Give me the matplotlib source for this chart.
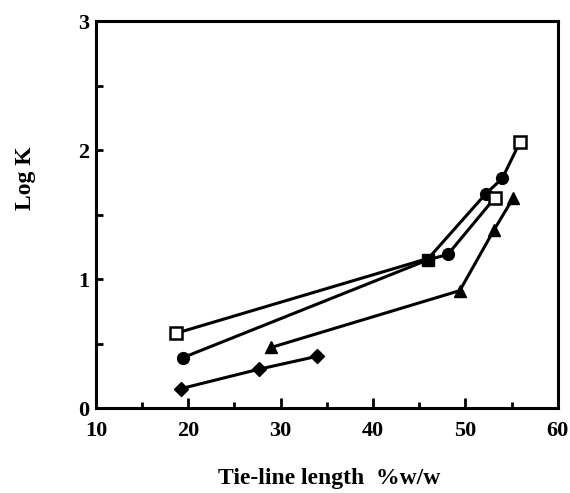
import numpy as np
import matplotlib
matplotlib.use("Agg")
import matplotlib.pyplot as plt
from matplotlib.ticker import MultipleLocator

# Datos (Log K frente a longitud de la tie-line, %w/w)
# Trazos (líneas)
linea_a_x = [18.7, 46.0, 52.2, 54.0, 55.9]
linea_a_y = [0.58, 1.16, 1.66, 1.78, 2.06]
linea_b_x = [19.4, 46.0, 48.1, 53.2]
linea_b_y = [0.39, 1.15, 1.19, 1.63]
triang_x = [29.0, 49.4, 53.1, 55.2]
triang_y = [0.47, 0.91, 1.38, 1.63]
rombo_x = [19.2, 27.6, 33.9]
rombo_y = [0.15, 0.30, 0.40]

# Marcadores por tipo
cuad_abierto_x = [18.7, 53.2, 55.9]
cuad_abierto_y = [0.58, 1.63, 2.06]
cuad_lleno_x = [46.0]
cuad_lleno_y = [1.15]
circ_x = [19.4, 48.1, 52.2, 54.0]
circ_y = [0.39, 1.19, 1.66, 1.78]

plt.rcParams.update({
    "font.family": "Liberation Serif",
    "font.weight": "bold",
    "font.size": 16,
})

fig = plt.figure(figsize=(5.70, 4.93), dpi=100)
ax = fig.add_axes([0.1684, 0.1724, 0.810, 0.785])

lw = 2.2
negro = "black"

ax.plot(linea_a_x, linea_a_y, color=negro, lw=lw, zorder=2)
ax.plot(linea_b_x, linea_b_y, color=negro, lw=lw, zorder=2)
ax.plot(triang_x, triang_y, color=negro, lw=lw, marker="^", ms=8.5, zorder=3)
ax.plot(rombo_x, rombo_y, color=negro, lw=lw, marker="D", ms=7.5, zorder=3)

ax.plot(circ_x, circ_y, ls="none", marker="o", ms=8.5, color=negro, zorder=4)
ax.plot(cuad_lleno_x, cuad_lleno_y, ls="none", marker="s", ms=8,
        color=negro, zorder=4)
ax.plot(cuad_abierto_x, cuad_abierto_y, ls="none", marker="s", ms=8,
        mfc="white", mec=negro, mew=1.8, zorder=5)

# Ejes
ax.set_xlim(10, 60)
ax.set_ylim(0, 3)
ax.xaxis.set_major_locator(MultipleLocator(10))
ax.xaxis.set_minor_locator(MultipleLocator(5))
ax.yaxis.set_major_locator(MultipleLocator(1))
ax.yaxis.set_minor_locator(MultipleLocator(0.5))

for s in ax.spines.values():
    s.set_linewidth(2.2)

ax.tick_params(axis="x", which="major", direction="in", length=7, width=2,
               pad=9, labelsize=16)
ax.tick_params(axis="x", which="minor", direction="in", length=4, width=2)
ax.tick_params(axis="y", which="both", direction="in", length=5, width=2,
               pad=5, labelsize=16)

ax.set_xlabel("Tie-line length  %w/w", fontsize=17, fontweight="bold")
ax.set_ylabel("Log K", fontsize=17, fontweight="bold")
ax.xaxis.set_label_coords(0.506, -0.155)
ax.yaxis.set_label_coords(-0.13, 0.594)

fig.savefig("out.png", dpi=100)
plt.close(fig)
